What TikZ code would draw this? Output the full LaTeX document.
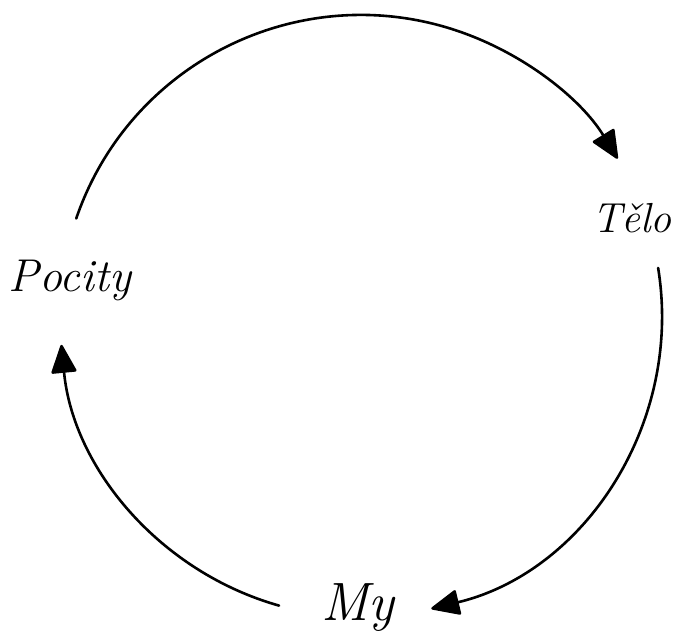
\documentclass[tikz,border=0pt]{standalone}
\usetikzlibrary{arrows.meta}
\begin{document}
\begin{tikzpicture}[x=1pt,y=1pt,
  lbl/.style={font=\fontsize{46}{54}\selectfont\itshape, inner sep=0pt},
  cyc/.style={line width=2.6pt, line cap=round, -{Triangle[length=30pt,width=26pt,round]}}]
\useasboundingbox (0,0) rectangle (676,642);
\coordinate (c) at (361,326);
\node[lbl] (pocity) at (70,362) {Pocity};
\node[lbl, anchor=east, font=\fontsize{42}{50}\selectfont\itshape] (telo) at (672,424) {Tělo};
\node[lbl, font=\fontsize{54}{60}\selectfont\itshape] (my) at (358,34) {My};
% arcs on a circle of radius 301 around (c)
\draw[cyc] ([shift={(161.1:301)}]c) arc[start angle=161.1, end angle=31.5, radius=301];
\draw[cyc] ([shift={(9.2:301)}]c) arc[start angle=9.2, end angle=-76.5, radius=301];
\draw[cyc] ([shift={(-105.8:301)}]c) arc[start angle=-105.8, end angle=-174.5, radius=301];
\end{tikzpicture}
\end{document}
